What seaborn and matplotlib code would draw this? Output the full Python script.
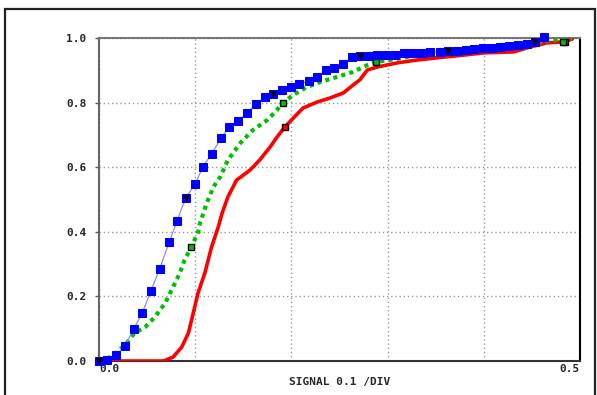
import matplotlib
matplotlib.use("Agg")
import matplotlib.pyplot as plt
import seaborn as sns
from matplotlib.patches import Rectangle

# Blue series (squares, every 10th point flagged with a black triangle)
blue_x = [0.000, 0.008, 0.018, 0.027, 0.036, 0.045, 0.054, 0.063, 0.073, 0.081,
          0.090, 0.100, 0.108, 0.117, 0.127, 0.135, 0.144, 0.154, 0.163, 0.173,
          0.181, 0.190, 0.200, 0.208, 0.218, 0.227, 0.236, 0.244, 0.254, 0.263,
          0.271, 0.281, 0.289, 0.298, 0.308, 0.317, 0.326, 0.336, 0.344, 0.354,
          0.363, 0.372, 0.381, 0.390, 0.399, 0.409, 0.417, 0.426, 0.436, 0.445,
          0.453, 0.463]
blue_y = [0.000, 0.003, 0.019, 0.046, 0.099, 0.149, 0.217, 0.285, 0.368, 0.433,
          0.505, 0.548, 0.601, 0.641, 0.690, 0.724, 0.743, 0.768, 0.796, 0.817,
          0.827, 0.839, 0.848, 0.858, 0.867, 0.879, 0.901, 0.907, 0.920, 0.941,
          0.944, 0.944, 0.947, 0.947, 0.947, 0.954, 0.954, 0.954, 0.957, 0.957,
          0.960, 0.960, 0.963, 0.966, 0.969, 0.969, 0.972, 0.975, 0.978, 0.981,
          0.988, 1.003]

# Green series (dotted)
green_x = [0.000, 0.008, 0.017, 0.029, 0.037, 0.048, 0.058, 0.069, 0.077, 0.084,
           0.089, 0.096, 0.103, 0.105, 0.112, 0.119, 0.126, 0.134, 0.147, 0.160,
           0.175, 0.185, 0.191, 0.202, 0.216, 0.230, 0.247, 0.264, 0.279, 0.288,
           0.302, 0.320, 0.334, 0.354, 0.386, 0.417, 0.448, 0.474, 0.492]
green_y = [0.000, 0.006, 0.022, 0.056, 0.087, 0.105, 0.136, 0.180, 0.229, 0.272,
           0.313, 0.353, 0.399, 0.427, 0.489, 0.539, 0.570, 0.622, 0.675, 0.715,
           0.746, 0.777, 0.799, 0.824, 0.848, 0.864, 0.879, 0.895, 0.916, 0.926,
           0.932, 0.941, 0.954, 0.963, 0.966, 0.972, 0.981, 0.994, 1.000]
green_mark_x = [0.096, 0.191, 0.288, 0.482]
green_mark_y = [0.353, 0.799, 0.926, 0.988]

# Red series (solid)
red_x = [0.000, 0.067, 0.077, 0.086, 0.093, 0.098, 0.103, 0.110, 0.117, 0.124,
         0.128, 0.134, 0.143, 0.157, 0.167, 0.178, 0.185, 0.193, 0.202, 0.212,
         0.227, 0.240, 0.254, 0.264, 0.271, 0.279, 0.289, 0.310, 0.331, 0.359,
         0.379, 0.400, 0.431, 0.448, 0.466, 0.483, 0.492]
red_y = [0.000, 0.000, 0.012, 0.043, 0.087, 0.149, 0.211, 0.272, 0.353, 0.415,
         0.458, 0.508, 0.560, 0.591, 0.622, 0.663, 0.693, 0.724, 0.752, 0.783,
         0.802, 0.814, 0.830, 0.854, 0.870, 0.901, 0.910, 0.923, 0.932, 0.941,
         0.947, 0.954, 0.957, 0.972, 0.985, 0.988, 0.997]
red_mark_x = [0.193, 0.484]
red_mark_y = [0.724, 0.988]

x_ticks = [0.0, 0.1, 0.2, 0.3, 0.4, 0.5]
x_labels = ["0.0", "", "", "", "", "0.5"]
y_ticks = [0.0, 0.2, 0.4, 0.6, 0.8, 1.0]
y_labels = ["0.0", "0.2", "0.4", "0.6", "0.8", "1.0"]

sns.set_style("white")
plt.rcParams['font.family'] = ['DejaVu Sans Mono', 'DejaVu Sans']

fig = plt.figure(figsize=(5.97, 3.95), dpi=100)
ax = fig.add_axes([99 / 597, 34 / 395, 481 / 597, 323 / 395])

# Red curve
sns.lineplot(x=red_x, y=red_y, ax=ax, color="#ff0000", linewidth=2.6,
             sort=False, estimator=None, zorder=3)
sns.lineplot(x=red_mark_x, y=red_mark_y, ax=ax, linestyle="", marker="s",
             markersize=4, markerfacecolor="#ff0000", markeredgecolor="black",
             markeredgewidth=1, estimator=None, zorder=4)

# Green curve
sns.lineplot(x=green_x, y=green_y, ax=ax, color="#00c000", linewidth=3,
             dashes=False, sort=False, estimator=None, zorder=4)
ax.lines[-1].set_dashes((1, 1))
ax.lines[-1].set_dash_capstyle("butt")
sns.lineplot(x=green_mark_x, y=green_mark_y, ax=ax, linestyle="", marker="s",
             markersize=4, markerfacecolor="#00c000", markeredgecolor="black",
             markeredgewidth=1, estimator=None, zorder=5)

# Blue curve
sns.lineplot(x=blue_x, y=blue_y, ax=ax, color="#8c8cff", linewidth=0.9,
             marker="s", markersize=5.6, markerfacecolor="#0000ff",
             markeredgecolor="#0000ff", sort=False, estimator=None,
             zorder=6, clip_on=False)
sns.lineplot(x=blue_x[::10], y=blue_y[::10], ax=ax, linestyle="", marker="v",
             markersize=4.2, markerfacecolor="black", markeredgecolor="black",
             markeredgewidth=0.5, estimator=None, zorder=7, clip_on=False)

ax.set_xlim(0, 0.5)
ax.set_ylim(0, 1.0)
ax.set_xticks(x_ticks)
ax.set_xticklabels(x_labels, fontsize=8, fontweight="bold")
ax.set_yticks(y_ticks)
ax.set_yticklabels(y_labels, fontsize=8, fontweight="bold")
xl = ax.get_xticklabels()
xl[0].set_ha("left")
xl[-1].set_ha("right")
ax.tick_params(axis="x", length=0, pad=2)
ax.tick_params(axis="y", length=3, width=1, color="#555555", pad=6, left=True)

ax.grid(True, linestyle=(0, (1, 2)), color="#999999", linewidth=1)
ax.set_axisbelow(True)

ax.set_xlabel("SIGNAL 0.1 /DIV", fontsize=8, fontweight="bold", labelpad=2)
ax.set_ylabel("")

ax.spines["left"].set_color("#666666")
ax.spines["top"].set_color("#777777")
ax.spines["bottom"].set_color("#333333")
ax.spines["right"].set_color("black")
for s in ax.spines.values():
    s.set_linewidth(1.5)
    s.set_visible(True)

if ax.get_legend() is not None:
    ax.get_legend().remove()

# Outer frame around the whole picture
fig.patches.append(Rectangle((5 / 597, -0.05), 590 / 597, 1.05 - 9 / 395,
                             transform=fig.transFigure, fill=False,
                             edgecolor="#222222", linewidth=1.6))

fig.savefig("out.png", dpi=100)
